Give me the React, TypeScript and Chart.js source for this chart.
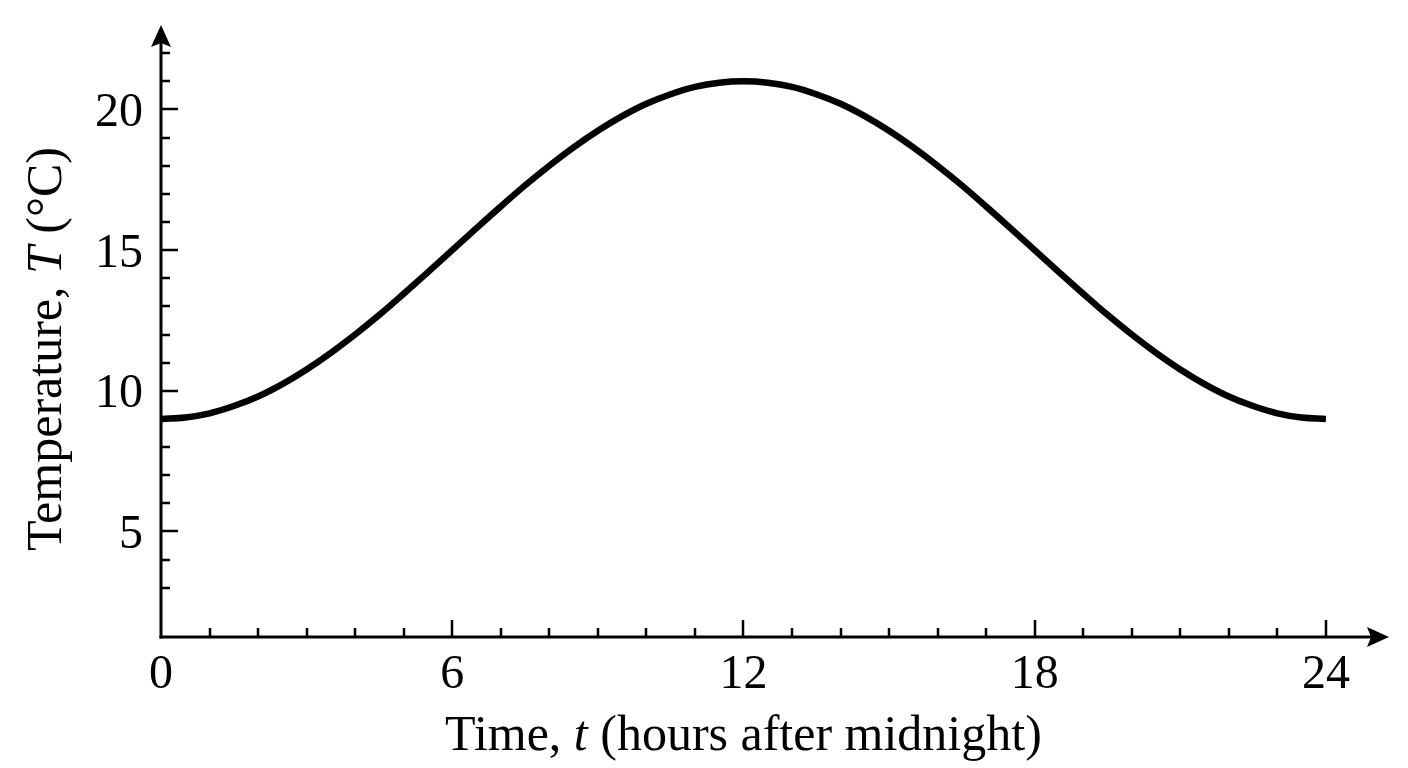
import { useEffect, useRef } from "react";
import { Chart, registerables } from "chart.js";

Chart.register(...registerables);

// ---- Data ----
const hours = [
  0, 0.5, 1, 1.5, 2, 2.5, 3, 3.5, 4, 4.5, 5, 5.5, 6, 6.5, 7, 7.5, 8, 8.5, 9, 9.5, 10, 10.5, 11, 11.5, 12,
  12.5, 13, 13.5, 14, 14.5, 15, 15.5, 16, 16.5, 17, 17.5, 18, 18.5, 19, 19.5, 20, 20.5, 21, 21.5, 22, 22.5, 23, 23.5, 24,
];
const temperatures = [
  9.0, 9.05, 9.2, 9.46, 9.8, 10.24, 10.76, 11.35, 12.0, 12.7, 13.45, 14.22, 15.0, 15.78, 16.55, 17.3, 18.0, 18.65,
  19.24, 19.76, 20.2, 20.54, 20.8, 20.95, 21.0,
  20.95, 20.8, 20.54, 20.2, 19.76, 19.24, 18.65, 18.0, 17.3, 16.55, 15.78, 15.0, 14.22, 13.45, 12.7, 12.0, 11.35,
  10.76, 10.24, 9.8, 9.46, 9.2, 9.05, 9.0,
];
const xTickLabels = [0, 6, 12, 18, 24];
const xMinorTicks = [1, 2, 3, 4, 5, 7, 8, 9, 10, 11, 13, 14, 15, 16, 17, 19, 20, 21, 22, 23];
const yTickLabels = [5, 10, 15, 20];
const yMinorTicks = [3, 4, 6, 7, 8, 9, 11, 12, 13, 14, 16, 17, 18, 19, 21, 22];
const xTitleParts = [
  { text: "Time, ", italic: false },
  { text: "t", italic: true },
  { text: " (hours after midnight)", italic: false },
];
const yTitleParts = [
  { text: "Temperature, ", italic: false },
  { text: "T", italic: true },
  { text: " (°C)", italic: false },
];

const SERIF = '"Liberation Serif", "DejaVu Serif", serif';

function drawParts(
  ctx: CanvasRenderingContext2D,
  parts: { text: string; italic: boolean }[],
  cx: number,
  baseline: number,
  size: number
) {
  const fontFor = (it: boolean) => `${it ? "italic " : ""}${size}px ${SERIF}`;
  let total = 0;
  const widths = parts.map((p) => {
    ctx.font = fontFor(p.italic);
    const w = ctx.measureText(p.text).width;
    total += w;
    return w;
  });
  let x = cx - total / 2;
  ctx.textAlign = "left";
  ctx.textBaseline = "alphabetic";
  parts.forEach((p, i) => {
    ctx.font = fontFor(p.italic);
    ctx.fillText(p.text, x, baseline);
    x += widths[i];
  });
}

function arrowHead(ctx: CanvasRenderingContext2D, tx: number, ty: number, dir: "right" | "up") {
  const len = 22;
  const half = 10;
  const notch = 4;
  ctx.beginPath();
  if (dir === "right") {
    ctx.moveTo(tx, ty);
    ctx.lineTo(tx - len, ty - half);
    ctx.lineTo(tx - len + notch, ty);
    ctx.lineTo(tx - len, ty + half);
  } else {
    ctx.moveTo(tx, ty);
    ctx.lineTo(tx - half, ty + len);
    ctx.lineTo(tx, ty + len - notch);
    ctx.lineTo(tx + half, ty + len);
  }
  ctx.closePath();
  ctx.fill();
}

const axesPlugin = {
  id: "mathAxes",
  beforeDatasetsDraw(chart: any) {
    const ctx: CanvasRenderingContext2D = chart.ctx;
    const xs = chart.scales.x;
    const ys = chart.scales.y;
    const x0 = xs.getPixelForValue(0);
    const y0 = ys.getPixelForValue(ys.min);
    const xEnd = xs.getPixelForValue(xs.max);
    const yEnd = ys.getPixelForValue(ys.max);

    ctx.save();
    ctx.strokeStyle = "#000";
    ctx.fillStyle = "#000";
    ctx.lineCap = "butt";

    // axis lines
    ctx.lineWidth = 3;
    ctx.beginPath();
    ctx.moveTo(x0 - 1.5, y0);
    ctx.lineTo(xEnd - 12, y0);
    ctx.stroke();
    ctx.beginPath();
    ctx.moveTo(x0, y0 + 1.5);
    ctx.lineTo(x0, yEnd + 12);
    ctx.stroke();
    arrowHead(ctx, xEnd, y0, "right");
    arrowHead(ctx, x0, yEnd, "up");

    // ticks (pointing inward)
    ctx.lineWidth = 2.5;
    ctx.beginPath();
    xTickLabels.forEach((v) => {
      if (v === 0) return;
      const px = Math.round(xs.getPixelForValue(v));
      ctx.moveTo(px, y0);
      ctx.lineTo(px, y0 - 17);
    });
    xMinorTicks.forEach((v) => {
      const px = Math.round(xs.getPixelForValue(v));
      ctx.moveTo(px, y0);
      ctx.lineTo(px, y0 - 9);
    });
    yTickLabels.forEach((v) => {
      const py = Math.round(ys.getPixelForValue(v));
      ctx.moveTo(x0, py);
      ctx.lineTo(x0 + 17, py);
    });
    yMinorTicks.forEach((v) => {
      const py = Math.round(ys.getPixelForValue(v));
      ctx.moveTo(x0, py);
      ctx.lineTo(x0 + 9, py);
    });
    ctx.stroke();

    // tick labels
    ctx.font = `48px ${SERIF}`;
    ctx.textBaseline = "alphabetic";
    ctx.textAlign = "center";
    xTickLabels.forEach((v) => {
      ctx.fillText(String(v), xs.getPixelForValue(v), y0 + 51);
    });
    ctx.textAlign = "right";
    yTickLabels.forEach((v) => {
      ctx.fillText(String(v), x0 - 18, ys.getPixelForValue(v) + 16.5);
    });

    // axis titles
    drawParts(ctx, xTitleParts, xs.getPixelForValue(12), y0 + 113, 50);
    ctx.save();
    ctx.translate(61, (chart.chartArea.top + chart.chartArea.bottom) / 2 + 18);
    ctx.rotate(-Math.PI / 2);
    drawParts(ctx, yTitleParts, 0, 0, 50);
    ctx.restore();

    ctx.restore();
  },
};

export default function App() {
  const canvasRef = useRef<HTMLCanvasElement | null>(null);

  useEffect(() => {
    document.body.style.margin = "0";
    const canvas = canvasRef.current;
    if (!canvas) return;
    const chart = new Chart(canvas, {
      type: "line",
      data: {
        datasets: [
          {
            data: hours.map((h, i) => ({ x: h, y: temperatures[i] })),
            borderColor: "#000",
            borderWidth: 6.5,
            borderCapStyle: "butt",
            borderJoinStyle: "round",
            pointRadius: 0,
            tension: 0.4,
            fill: false,
            clip: false as any,
          },
        ],
      },
      options: {
        animation: false,
        responsive: true,
        maintainAspectRatio: false,
        layout: { padding: { left: 161, right: 19, top: 25, bottom: 131 } },
        plugins: { legend: { display: false }, tooltip: { enabled: false } },
        scales: {
          x: { type: "linear", min: 0, max: 25.3, display: false },
          y: { type: "linear", min: 1.25, max: 23, display: false },
        },
      },
      plugins: [axesPlugin],
    });
    return () => chart.destroy();
  }, []);

  return (
    <div style={{ position: "absolute", left: 0, top: 0, width: 1408, height: 768, background: "#fff" }}>
      <canvas ref={canvasRef} />
    </div>
  );
}
